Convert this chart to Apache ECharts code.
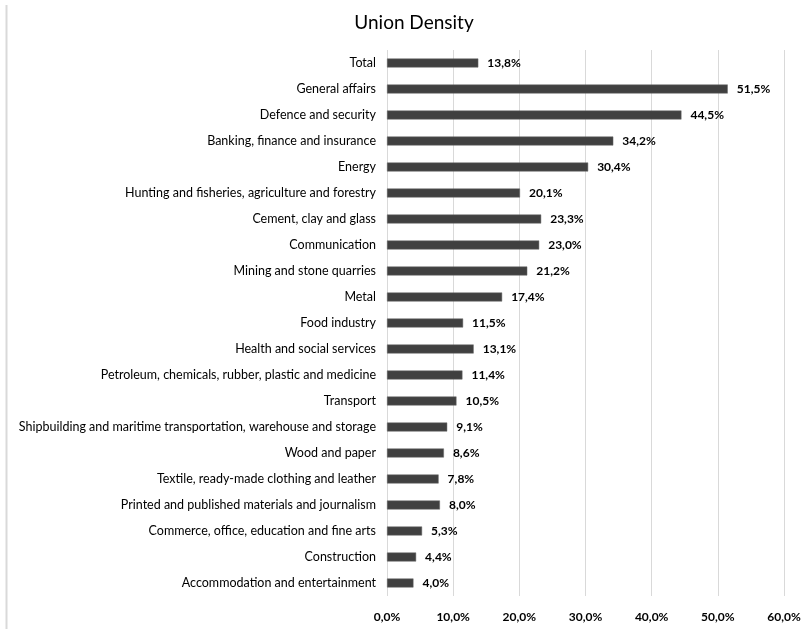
<!DOCTYPE html>
<html>
<head>
<meta charset="utf-8">
<script src="https://cdn.jsdelivr.net/npm/echarts@6/dist/echarts.min.js"></script>
<style>
html,body{margin:0;padding:0;background:#fff;}
#chart{width:806px;height:629px;}
</style>
</head>
<body>
<div id="chart"></div>
<script>
const categories = [
  "Total",
  "General affairs",
  "Defence and security",
  "Banking, finance and insurance",
  "Energy",
  "Hunting and fisheries, agriculture and forestry",
  "Cement, clay and glass",
  "Communication",
  "Mining and stone quarries",
  "Metal",
  "Food industry",
  "Health and social services",
  "Petroleum, chemicals, rubber, plastic and medicine",
  "Transport",
  "Shipbuilding and maritime transportation, warehouse and storage",
  "Wood and paper",
  "Textile, ready-made clothing and leather",
  "Printed and published materials and journalism",
  "Commerce, office, education and fine arts",
  "Construction",
  "Accommodation and entertainment"
];
const unionDensity = [13.8, 51.5, 44.5, 34.2, 30.4, 20.1, 23.3, 23.0, 21.2, 17.4, 11.5, 13.1, 11.4, 10.5, 9.1, 8.6, 7.8, 8.0, 5.3, 4.4, 4.0];
const xTicks = [0, 10, 20, 30, 40, 50, 60];

const FONT = "Lato, 'Open Sans', sans-serif";
const fmt = v => v.toFixed(1).replace('.', ',') + '%';

const chart = echarts.init(document.getElementById('chart'), null, {renderer: 'canvas'});
chart.setOption({
  backgroundColor: '#ffffff',
  animation: false,
  title: {
    text: 'Union Density',
    left: 409,
    textAlign: 'center',
    top: 8,
    textStyle: {fontFamily: FONT, fontSize: 19, fontWeight: 'normal', color: '#000'}
  },
  graphic: [{
    type: 'line',
    shape: {x1: 6.5, y1: 5, x2: 6.5, y2: 629},
    style: {stroke: '#d9d9d9', lineWidth: 2}
  }],
  grid: {left: 387, right: 22, top: 50, bottom: 33, containLabel: false},
  xAxis: {
    type: 'value',
    min: xTicks[0],
    max: xTicks[xTicks.length - 1],
    interval: 10,
    axisLine: {show: false},
    axisTick: {show: false},
    splitLine: {show: true, lineStyle: {color: '#d9d9d9', width: 1}},
    axisLabel: {
      formatter: fmt,
      margin: 15,
      fontFamily: FONT,
      fontSize: 12,
      fontWeight: 'bold',
      color: '#000'
    }
  },
  yAxis: {
    type: 'category',
    data: categories,
    inverse: true,
    axisLine: {show: false},
    axisTick: {show: false},
    axisLabel: {
      margin: 11,
      fontFamily: FONT,
      fontSize: 12.5,
      color: '#000'
    }
  },
  series: [{
    type: 'bar',
    data: unionDensity,
    barWidth: 9,
    itemStyle: {color: '#404040', borderColor: '#6a6a6a', borderWidth: 0.5},
    label: {
      show: true,
      position: 'right',
      distance: 9,
      formatter: p => fmt(p.value),
      fontFamily: FONT,
      fontSize: 12,
      fontWeight: 'bold',
      color: '#000'
    }
  }]
});
</script>
</body>
</html>
